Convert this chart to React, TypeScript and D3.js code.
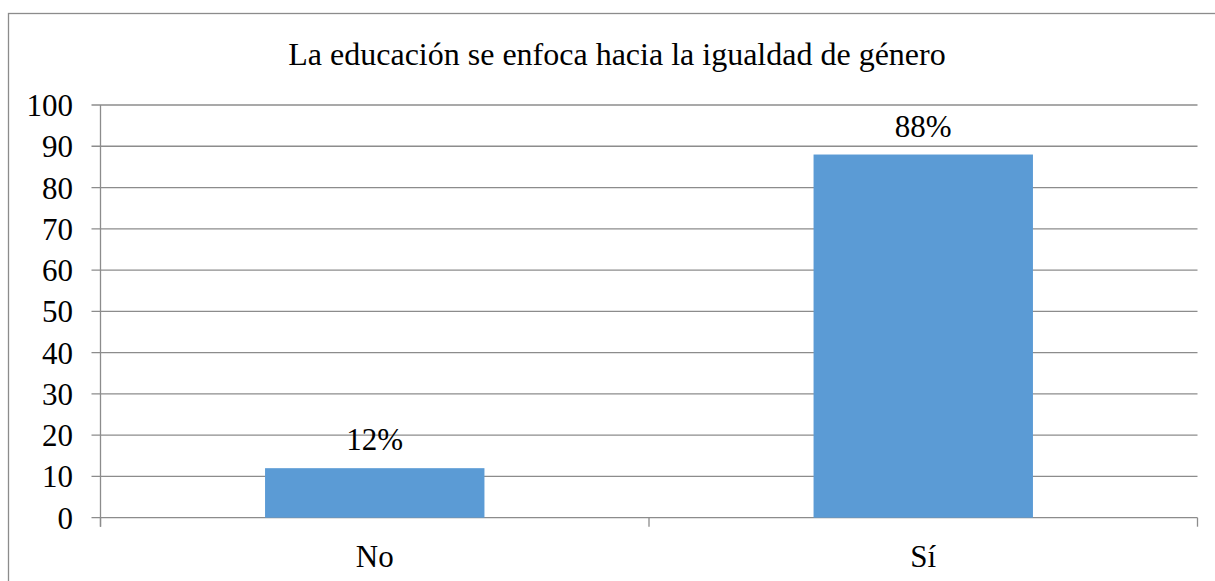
import * as d3 from 'd3'

const categories = ["No", "Sí"];
const values = [12, 88];
const valueLabels = ["12%", "88%"];
const yTicks = [0, 10, 20, 30, 40, 50, 60, 70, 80, 90, 100];
const title = "La educación se enfoca hacia la igualdad de género";

const W = 1215, H = 581;
const left = 100.5, right = 1197.5, top = 105, bottom = 517.7;
const font = "Liberation Serif";
const fs = 31;
const gridColor = "#8c8c8c";

function App() {
    const y = d3.scaleLinear().domain([0, 100]).range([bottom, top]);
    const x = d3.scaleBand().domain(categories).range([left, right]).paddingInner(0.6).paddingOuter(0.3);
    const bandEdges = [left, (left + right) / 2, right];

    return (
        <svg width={W} height={H} style={{ position: "absolute", left: 0, top: 0, background: "white" }}>
            {/* marco exterior */}
            <rect x={8.5} y={13.5} width={W} height={H} fill="white" stroke={gridColor} strokeWidth={1.3} />

            <text x={617} y={65} textAnchor="middle" fontFamily={font} fontSize={32}>{title}</text>

            {/* cuadrícula y etiquetas del eje y */}
            {yTicks.map(t => (
                <g key={t}>
                    <line x1={left - 9} x2={right} y1={y(t)} y2={y(t)} stroke={gridColor} strokeWidth={1.3} />
                    <text x={73} y={y(t) + 11} textAnchor="end" fontFamily={font} fontSize={fs}>{t}</text>
                </g>
            ))}

            <line x1={left} x2={left} y1={top} y2={bottom + 9} stroke={gridColor} strokeWidth={1.3} />
            {bandEdges.map((e, i) => (
                <line key={i} x1={e} x2={e} y1={bottom} y2={bottom + 9} stroke={gridColor} strokeWidth={1.3} />
            ))}

            {/* barras */}
            {values.map((v, i) => {
                const cx = (x(categories[i]) as number) + x.bandwidth() / 2;
                return (
                    <g key={categories[i]}>
                        <rect x={x(categories[i])} width={x.bandwidth()} y={y(v)} height={bottom - y(v)} fill="#5b9bd5" />
                        <text x={cx} y={y(v) - 18} textAnchor="middle" fontFamily={font} fontSize={fs}>{valueLabels[i]}</text>
                        <text x={cx} y={567} textAnchor="middle" fontFamily={font} fontSize={fs}>{categories[i]}</text>
                    </g>
                );
            })}
        </svg>
    );
}

export default App;
